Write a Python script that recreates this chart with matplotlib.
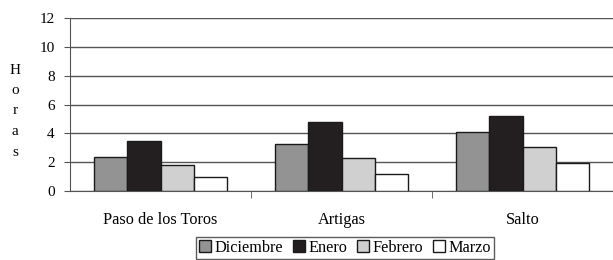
import matplotlib
matplotlib.use("Agg")
import matplotlib.pyplot as plt
import numpy as np

categories = ["Paso de los Toros", "Artigas", "Salto"]
series_names = ["Diciembre", "Enero", "Febrero", "Marzo"]
diciembre = [2.35, 3.25, 4.1]
enero = [3.47, 4.8, 5.18]
febrero = [1.8, 2.3, 3.03]
marzo = [0.97, 1.2, 1.95]
yticks = [0, 2, 4, 6, 8, 10, 12]

values = [diciembre, enero, febrero, marzo]
colors = ["#939393", "#231f20", "#d0d0d0", "#ffffff"]

plt.rcParams['font.family'] = ['Liberation Serif', 'DejaVu Serif']

fig = plt.figure(figsize=(6.13, 2.6), dpi=100)
ax = fig.add_axes([70/613, 1-191/260, 543/613, 173/260])

x = np.arange(len(categories))
w = 0.184
for i, (name, vals) in enumerate(zip(series_names, values)):
    ax.bar(x + (i - 1.5) * w, vals, w, color=colors[i], edgecolor="#1a1a1a",
           linewidth=1.0, label=name, zorder=3)

ax.set_xlim(-0.5, len(categories) - 0.5)
ax.set_ylim(0, 12)
ax.set_yticks(yticks)
ax.yaxis.grid(True, color="#555555", linewidth=1.0, zorder=0)
ax.set_axisbelow(True)
for s in ["top", "right"]:
    ax.spines[s].set_visible(False)
ax.spines["left"].set_color("#555555")
ax.spines["bottom"].set_color("#555555")
ax.tick_params(axis="y", labelsize=11, length=4, color="#555555", pad=7)
ax.set_xticks(x)
ax.set_xticklabels(categories, fontsize=11.7)
ax.tick_params(axis="x", length=0, pad=15)
ax.set_xticks(np.arange(0.5, len(categories) - 0.5, 1), minor=True)
ax.tick_params(axis="x", which="minor", length=5, color="#555555")

fig.text(15/613, 1-111/260, "H\no\nr\na\ns", ha="center", va="center",
         fontsize=11, linespacing=1.75)

leg = fig.legend(loc="center", bbox_to_anchor=(345/613, 1-248/260), ncol=4,
                 fontsize=11.7, frameon=True, fancybox=False, edgecolor="#333333",
                 handlelength=0.75, handleheight=0.75, handletextpad=0.2,
                 columnspacing=0.6, borderpad=0.2, borderaxespad=0)
leg.get_frame().set_linewidth(1.0)

fig.savefig("out.png", dpi=100)
